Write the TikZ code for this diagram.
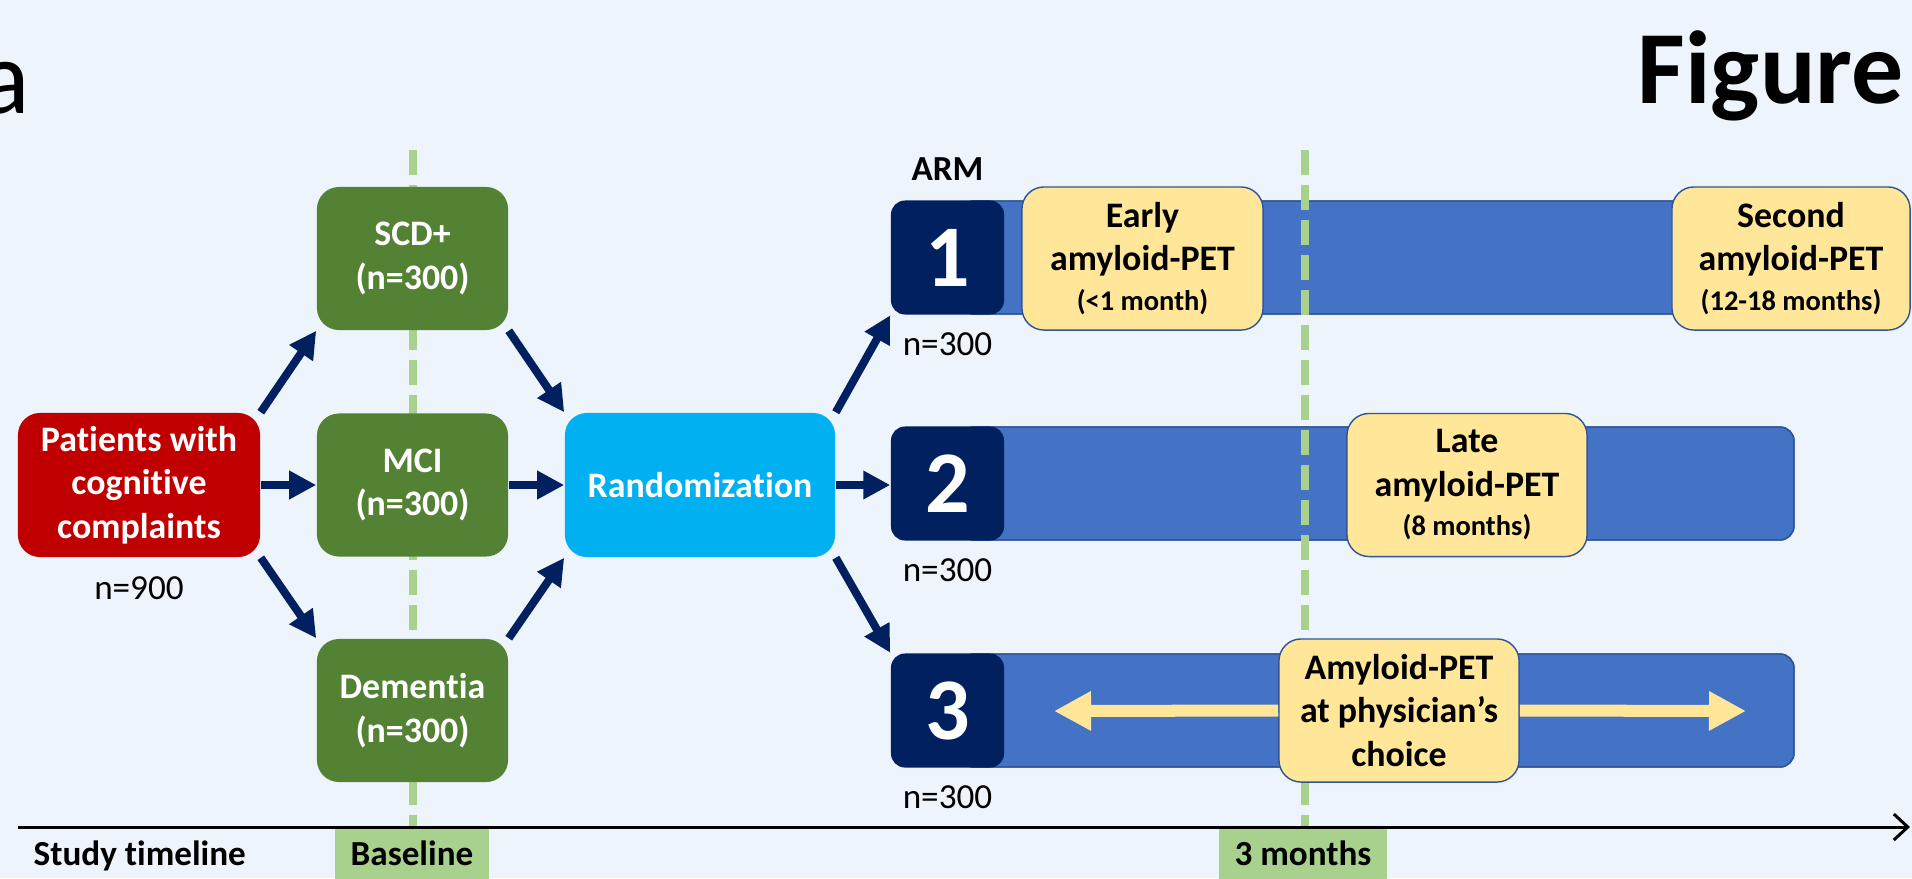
\documentclass[tikz,border=0pt]{standalone}
\usepackage{fontspec}
\setmainfont[Ligatures=NoCommon]{Carlito}
\usetikzlibrary{positioning,arrows.meta}
\definecolor{bgblue}{HTML}{EEF4FB}
\definecolor{patred}{HTML}{C00000}
\definecolor{grpgreen}{HTML}{548235}
\definecolor{lightgreen}{HTML}{A9D18E}
\definecolor{randcyan}{HTML}{00B0F0}
\definecolor{navy}{HTML}{002060}
\definecolor{barblue}{HTML}{4472C4}
\definecolor{baredge}{HTML}{2F5597}
\definecolor{petyellow}{HTML}{FFE699}
\tikzset{
  box/.style={rounded corners=0.22cm, inner sep=0pt, align=center, text=white, font=\fontsize{10.2}{12.3}\selectfont\bfseries},
  group/.style={box, fill=grpgreen, minimum width=1.91cm, minimum height=1.43cm},
  armsq/.style={rounded corners=0.14cm, fill=navy, text=white, inner sep=0pt, minimum width=1.13cm, minimum height=1.14cm, font=\fontsize{25}{30}\selectfont\bfseries},
  pet/.style={box, fill=petyellow, draw=baredge, line width=0.4pt, text=black, minimum width=2.4cm, minimum height=1.43cm},
  bar/.style={fill=barblue, draw=baredge, line width=0.4pt, rounded corners=0.14cm},
  flow/.style={navy, line width=0.08cm, -{Triangle[length=0.27cm,width=0.27cm]}},
  choice/.style={petyellow, line width=0.12cm, -{Triangle[length=0.37cm,width=0.37cm]}},
  guide/.style={lightgreen, line width=0.08cm, dash pattern=on 0.25cm off 0.1cm},
  tag/.style={fill=lightgreen, anchor=north, inner sep=0pt, text height=0.37cm, text depth=0.2cm, font=\fontsize{10}{12}\selectfont\bfseries},
  count/.style={font=\fontsize{10}{12}\selectfont}
}
\newcommand{\petsmall}[1]{{\fontsize{8.1}{9.5}\selectfont #1}}
\begin{document}
\begin{tikzpicture}[x=0.01cm,y=-0.01cm]
\useasboundingbox (0,0) rectangle (1912,878);
\fill[bgblue] (0,0) rectangle (1912,878);

\node[anchor=base east, inner sep=0pt, font=\fontsize{30}{36}\selectfont] (lettera) at (31,113) {a};
\node[anchor=base west, inner sep=0pt, font=\fontsize{29.5}{35}\selectfont\bfseries] (figure) at (1637,103) {Figure};

\fill[bar] (960,201) rectangle (1880,314);
\fill[bar] (960,427) rectangle (1794,540);
\fill[bar] (960,654) rectangle (1794,767);
\draw[bar, fill=none] (960,201) rectangle (1880,314);
\draw[bar, fill=none] (960,427) rectangle (1794,540);
\draw[bar, fill=none] (960,654) rectangle (1794,767);

\draw[guide] (412.5,150) -- (412.5,827);
\draw[guide] (1304.5,150) -- (1304.5,827);

\node[box, fill=patred, minimum width=2.42cm, minimum height=1.44cm] (pat) at (139,485) {Patients with\\cognitive\\complaints};
\node[count, below=0.06cm of pat] (n900) {n=900};

\node[group] (scd) at (412.5,258.5) {SCD+\\(n=300)};
\node[group] (mci) at (412.5,485) {MCI\\(n=300)};
\node[group] (dem) at (412.5,710.5) {Dementia\\(n=300)};

\node[box, fill=randcyan, minimum width=2.7cm, minimum height=1.44cm] (rand) at (700,485) {Randomization};

\node[armsq] (sq1) at (947.5,257.5) {1};
\node[armsq] (sq2) at (947.5,483.5) {2};
\node[armsq] (sq3) at (947.5,710.5) {3};
\node[count, font=\fontsize{10}{12}\selectfont\bfseries, above=0.07cm of sq1] (arm) {ARM};
\node[count, below=0.05cm of sq1] (n1) {n=300};
\node[count, below=0.05cm of sq2] (n2) {n=300};
\node[count, below=0.05cm of sq3] (n3) {n=300};

\node[pet, minimum width=2.41cm] (early) at (1142.5,258.5) {Early\\amyloid-PET\\[-1pt]\petsmall{(<1 month)}};
\node[pet, minimum width=2.38cm] (second) at (1791,258.5) {Second\\amyloid-PET\\[-1pt]\petsmall{(12-18 months)}};
\node[pet] (late) at (1467,485) {Late\\amyloid-PET\\[-1pt]\petsmall{(8 months)}};
\node[pet] (phys) at (1399,710.5) {Amyloid-PET\\at physician’s\\choice};

\coordinate (lefttip) at (1054,711);
\coordinate (righttip) at (1746,711);
\draw[choice] (phys.west) -- (lefttip);
\draw[choice] (phys.east) -- (righttip);

\draw[flow] (pat.north east) -- (scd.south west);
\draw[flow] (pat) -- (mci);
\draw[flow] (pat.south east) -- (dem.north west);
\draw[flow] (scd.south east) -- (rand.north west);
\draw[flow] (mci) -- (rand);
\draw[flow] (dem.north east) -- (rand.south west);
\draw[flow] (rand.north east) -- (sq1.south west);
\draw[flow] (rand.east) -- (rand.east -| sq2.west);
\draw[flow] (rand.south east) -- (sq3.north west);

\node[tag, minimum width=1.54cm] (baseline) at (412,828) {Baseline};
\node[tag, minimum width=1.68cm] (threemonths) at (1303,828) {3 months};
\node[anchor=base west, inner sep=0pt, font=\fontsize{10}{12}\selectfont\bfseries] (study) at (33,865) {Study timeline};

\coordinate (tstart) at (18,827);
\coordinate (tend) at (1910,827);
\draw[line width=0.03cm, -{Straight Barb[length=0.14cm,width=0.26cm]}] (tstart) -- (tend);
\end{tikzpicture}
\end{document}
